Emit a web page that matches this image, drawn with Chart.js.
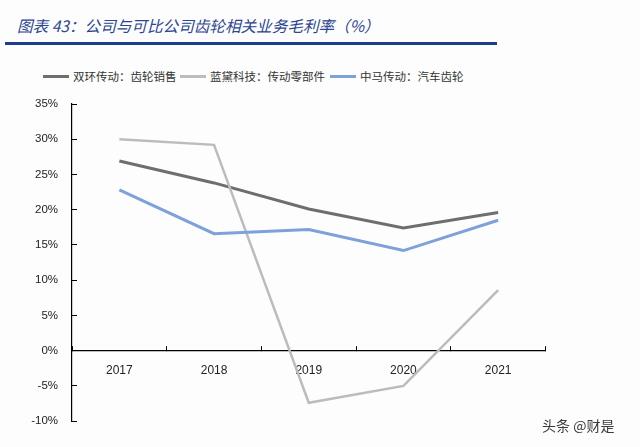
<!DOCTYPE html>
<html><head><meta charset="utf-8">
<script src="https://cdn.jsdelivr.net/npm/chart.js@4/dist/chart.umd.min.js"></script>
<style>
html,body{margin:0;padding:0;background:#fdfdfe;}
#wrap{position:relative;width:640px;height:447px;overflow:hidden;background:#fdfdfe;}
#title{position:absolute;left:17px;top:15px;font:italic 15.6px "Noto Sans CJK SC";color:#2b4590;white-space:nowrap;line-height:20px;}
#rule{position:absolute;left:5px;top:42px;width:492px;height:3px;background:#1c3c8c;}
.lg{position:absolute;top:68px;height:16px;display:flex;align-items:center;white-space:nowrap;font:11.5px "Noto Sans CJK SC";color:#333;}
.lg i{display:inline-block;width:26px;height:3px;margin-right:4px;}
#wm{position:absolute;left:542px;top:415px;font:14px "Noto Sans CJK SC";color:#3a3a3a;text-shadow:0 0 2px #fff;}
canvas{position:absolute;left:0;top:0;}
</style></head>
<body>
<div id="wrap">
<div id="title">图表 43：公司与可比公司齿轮相关业务毛利率（%）</div>
<div id="rule"></div>
<div id="legend"></div>
<canvas id="c" width="640" height="447"></canvas>
<div id="wm">头条 @财是</div>
</div>
<script>
const categories = ['2017', '2018', '2019', '2020', '2021'];
const seriesNames = ['双环传动：齿轮销售', '蓝黛科技：传动零部件', '中马传动：汽车齿轮'];
const shuanghuan = [26.9, 23.8, 20.1, 17.4, 19.6];
const landai = [30.0, 29.2, -7.4, -5.0, 8.6];
const zhongma = [22.8, 16.6, 17.2, 14.2, 18.5];
const yTickValues = [-10, -5, 0, 5, 10, 15, 20, 25, 30, 35];

const colors = ['#6e6e6e', '#bcbcbc', '#7ea1d9'];
const widths = [3, 2.5, 3];
const seriesData = [shuanghuan, landai, zhongma];
const legendLeft = [43, 180, 330];

const legend = document.getElementById('legend');
seriesNames.forEach((n, i) => {
  const d = document.createElement('div');
  d.className = 'lg';
  d.style.left = legendLeft[i] + 'px';
  d.innerHTML = '<i style="background:' + colors[i] + '"></i><span>' + n + '</span>';
  legend.appendChild(d);
});

new Chart(document.getElementById('c'), {
  type: 'line',
  data: {
    labels: categories,
    datasets: seriesData.map((d, i) => ({
      label: seriesNames[i],
      data: d,
      borderColor: colors[i],
      backgroundColor: colors[i],
      borderWidth: widths[i],
      pointRadius: 0,
      tension: 0,
      order: 3 - i
    }))
  },
  options: {
    responsive: false,
    devicePixelRatio: 1,
    animation: false,
    layout: { padding: { top: 104, bottom: 24, left: 0, right: 94.5 } },
    plugins: { legend: { display: false }, tooltip: { enabled: false } },
    scales: {
      x: {
        position: { y: 0 },
        offset: true,
        grid: { offset: true, drawOnChartArea: false, drawTicks: true, tickLength: -5, color: '#000', lineWidth: 1 },
        border: { display: true, color: '#000', width: 1.2 },
        ticks: { padding: 18, color: '#222', font: { family: 'Liberation Sans', size: 12 }, maxRotation: 0 }
      },
      y: {
        min: -10, max: 35,
        afterBuildTicks: s => { s.ticks = yTickValues.map(v => ({ value: v })); },
        afterFit: s => { s.width = 72; },
        grid: { drawOnChartArea: false, drawTicks: true, tickLength: -5, color: '#000', lineWidth: 1 },
        border: { display: true, color: '#000', width: 1.2 },
        ticks: { padding: 19, color: '#222', font: { family: 'Liberation Sans', size: 11.5 }, callback: v => v + '%' }
      }
    }
  }
});
</script>
</body></html>
